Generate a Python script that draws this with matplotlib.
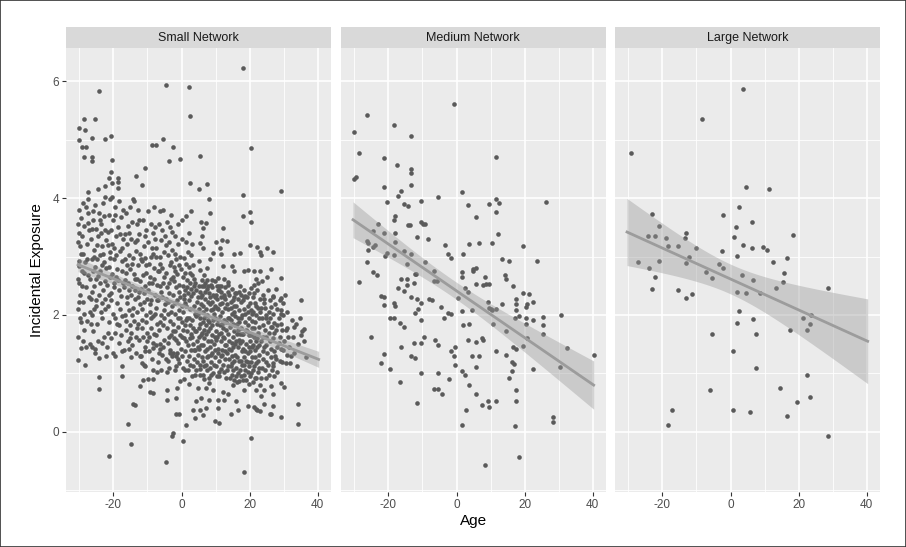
import numpy as np
import matplotlib.pyplot as plt

plt.rcParams['font.family'] = ['Liberation Sans', 'DejaVu Sans']
plt.rcParams['axes.unicode_minus'] = False

panel_titles = ["Small Network", "Medium Network", "Large Network"]
x_ticks = [-20, 0, 20, 40]
x_minor = [-30, -10, 10, 30]
y_ticks = [0, 2, 4, 6]
y_minor = [-1, 1, 3, 5]

# fitted line: value at the youngest and oldest age
fit_start = [2.86, 3.63, 3.42]
fit_end = [1.24, 0.80, 1.55]

# (age, incidental exposure)
small_points = [
    # sparse top
    (18.0, 6.22), (-4.7, 5.94), (2.3, 5.91), (-24.3, 5.84), (2.5, 5.41), (-28.5, 5.35), (-25.4, 5.36),
    (-30.1, 5.20), (-28.4, 5.17), (-30.2, 5.00), (-26.4, 5.03), (-22.4, 5.01), (-20.6, 5.07), (-5.5, 5.01),
    (-8.6, 4.91), (-7.6, 4.91), (-2.4, 4.88), (20.4, 4.86), (-29.3, 4.88), (-28.2, 4.88), (-28.6, 4.70),
    (-26.3, 4.70), (-26.3, 4.63), (-20.4, 4.66), (-3.8, 4.63), (-0.5, 4.67), (5.3, 4.72), (-10.6, 4.51),
    (-20.6, 4.44), (-21.4, 4.35), (-18.6, 4.34), (-18.6, 4.28), (-20.3, 4.26), (-18.6, 4.18), (-13.5, 4.38),
    (-11.6, 4.22), (-22.6, 4.21), (-24.4, 4.15), (-27.4, 4.11), (2.4, 4.26), (7.5, 4.25), (5.2, 4.15),
    (18.0, 4.06), (29.2, 4.13), (-22.4, 4.02), (-20.4, 4.02), (-27.5, 3.98), (-14.3, 3.98), (8.2, 3.98),
    # upper right
    (8.4, 3.74), (18.2, 3.70), (20.2, 3.77), (20.3, 3.59), (5.8, 3.59), (7.1, 3.57), (6.2, 3.49), (12.3, 3.49),
    (6.1, 3.36), (10.0, 3.25), (12.0, 3.28), (13.3, 3.26), (5.3, 3.23), (6.2, 3.14), (11.2, 3.14), (20.2, 3.19),
    (22.1, 3.17), (25.1, 3.14), (27.0, 3.08), (23.1, 3.07), (23.3, 3.02), (17.3, 3.06), (15.3, 3.04), (9.2, 3.06),
    (11.7, 3.05), (5.0, 2.93), (8.5, 2.95), (12.2, 2.84), (14.9, 2.83), (15.3, 2.76), (18.3, 2.76), (19.4, 2.77),
    (21.2, 2.75), (23.1, 2.76), (26.4, 2.79), (5.4, 2.77), (7.4, 2.80), (6.5, 2.69), (10.7, 2.63), (12.6, 2.61),
    (13.6, 2.57), (21.9, 2.61), (29.3, 2.63), (5.0, 2.50), (7.8, 2.50), (11.7, 2.49), (18.3, 2.43), (20.4, 2.46),
    (21.2, 2.51), (10.7, 2.43), (9.7, 2.31), (12.6, 2.31), (15.5, 2.31), (18.5, 2.31), (24.1, 2.28), (27.0, 2.33),
    (29.1, 2.29), (29.9, 2.20), (35.0, 2.26), (23.3, 2.12), (26.2, 2.13), (29.3, 2.08), (29.3, 2.02), (24.8, 2.00),
    (27.2, 1.87), (28.2, 1.83), (31.1, 1.77), (33.0, 1.79), (36.0, 1.76), (35.0, 1.65), (29.6, 1.75), (26.2, 1.80),
    # lower right
    (27.2, 1.38), (29.3, 1.41), (28.9, 1.21), (33.0, 1.35), (34.0, 1.13), (28.2, 1.02), (27.0, 1.18), (29.3, 0.84),
    (30.1, 0.77), (26.2, 0.79), (27.0, 0.65), (27.0, 0.45), (24.3, 0.48), (26.2, 0.31), (29.3, 0.26), (34.2, 0.47),
    (34.2, 0.13), (21.4, 0.43), (22.1, 0.37), (19.4, 0.45), (16.5, 0.38), (14.4, 0.30), (16.1, 0.52), (18.5, 0.72),
    (21.9, 0.72), (18.9, 0.89), (17.0, 0.87), (15.1, 0.81), (13.6, 0.64), (12.6, 0.55), (10.7, 0.55), (8.2, 0.55),
    (5.8, 0.58), (4.4, 0.52), (10.7, 0.41), (5.4, 0.38), (7.3, 0.41), (9.7, 0.18), (10.9, 0.15), (20.4, -0.11),
    (4.9, 0.75), (7.3, 0.75), (9.2, 0.72), (27.2, 0.95), (23.3, 0.61), (23.2, 0.35), (25.9, 0.31), (21.8, 0.39),
    (30.6, 1.18), (31.1, 1.32), (21.8, 0.92), (8.1, 0.84), (4.0, 0.24), (6.4, 0.28), (12.1, 0.69),
    # lower left
    (-29.4, 1.43), (-28.2, 1.46), (-26.2, 1.46), (-25.3, 1.41), (-23.3, 1.52), (-30.4, 1.23), (-28.4, 1.15),
    (-24.3, 1.26), (-22.3, 1.29), (-19.4, 1.30), (-17.5, 1.38), (-15.5, 1.41), (-14.8, 1.28), (-12.2, 1.30),
    (-10.7, 1.38), (-8.3, 1.43), (-6.3, 1.41), (-3.4, 1.35), (-1.5, 1.29), (-11.7, 1.18), (-10.7, 1.13),
    (-8.3, 1.06), (-7.3, 1.03), (-4.4, 1.02), (-1.5, 1.12), (-17.5, 1.12), (-17.5, 0.96), (-24.3, 0.94),
    (-24.3, 0.73), (-11.4, 0.88), (-9.7, 0.90), (-8.4, 0.90), (-12.3, 0.78), (-9.2, 0.69), (-8.4, 0.66),
    (-4.4, 0.72), (-4.4, 0.55), (-1.7, 0.58), (-0.5, 0.87), (-14.3, 0.48), (-13.6, 0.46), (-15.6, 0.14),
    (-1.5, 0.30), (-0.7, 0.31), (1.4, 0.12), (-2.6, -0.02), (-2.9, -0.07), (3.4, 0.38),
    (-21.4, -0.41), (-14.8, -0.21), (-4.7, -0.51), (18.3, -0.68), (0.5, -0.16),
    # dense cloud, age -30 to -27
    (-30.4, 1.62), (-29.6, 1.88), (-30.3, 2.10), (-28.7, 2.02), (-29.9, 2.35), (-28.2, 2.48), (-30.3, 2.62),
    (-29.1, 2.75), (-27.6, 2.68), (-30.2, 2.92), (-28.8, 3.05), (-29.7, 3.18), (-27.9, 3.22), (-30.1, 3.40),
    (-28.5, 3.52), (-29.4, 3.66), (-30.1, 3.80), (-27.4, 3.74), (-28.9, 3.92), (-30.2, 2.22), (-27.3, 2.30),
    (-29.0, 1.55), (-27.8, 1.90), (-30.0, 2.84), (-28.3, 2.90), (-27.1, 3.45), (-29.2, 2.50), (-27.0, 2.05),
    (-28.6, 1.75), (-30.4, 3.55),
    (-29.8, 1.95), (-28.9, 2.22), (-30.0, 2.55), (-28.6, 2.72), (-29.6, 3.05), (-27.9, 2.95), (-29.2, 3.35),
    (-27.5, 3.58), (-28.2, 3.85), (-30.3, 3.25),
    # -27 to -22
    (-26.8, 1.50), (-25.9, 1.72), (-24.8, 1.85), (-26.3, 2.00), (-23.5, 1.95), (-25.1, 2.15), (-22.6, 2.10),
    (-26.6, 2.28), (-24.2, 2.35), (-23.0, 2.42), (-25.6, 2.50), (-26.9, 2.62), (-24.6, 2.66), (-22.4, 2.58),
    (-23.8, 2.75), (-25.3, 2.82), (-26.2, 2.95), (-22.9, 2.90), (-24.0, 3.02), (-25.8, 3.12), (-23.3, 3.18),
    (-26.7, 3.30), (-24.5, 3.35), (-22.2, 3.28), (-25.0, 3.48), (-23.6, 3.55), (-26.0, 3.62), (-24.3, 3.75),
    (-22.7, 3.70), (-25.5, 3.88), (-23.1, 3.92), (-25.2, 2.25), (-23.9, 2.55), (-26.5, 1.85), (-22.8, 1.62),
    (-24.4, 1.55), (-25.7, 3.00), (-23.4, 2.20), (-26.1, 3.78), (-22.3, 2.80), (-24.9, 2.95), (-23.7, 3.40),
    (-25.4, 1.35),
    (-26.4, 2.40), (-25.0, 2.62), (-23.5, 2.85), (-26.0, 2.75), (-24.8, 3.20), (-23.0, 3.05), (-26.3, 3.48),
    (-24.0, 3.62), (-22.6, 3.45), (-25.6, 2.10), (-23.7, 2.05), (-22.5, 2.28),
    # -22 to -17
    (-21.8, 1.45), (-20.6, 1.60), (-19.5, 1.70), (-21.2, 1.88), (-18.3, 1.82), (-17.4, 1.98), (-20.1, 2.02),
    (-21.6, 2.15), (-19.0, 2.20), (-17.9, 2.32), (-20.8, 2.38), (-21.9, 2.52), (-19.7, 2.48), (-18.6, 2.60),
    (-17.2, 2.55), (-20.3, 2.70), (-21.4, 2.82), (-18.9, 2.78), (-17.6, 2.92), (-19.9, 2.95), (-21.0, 3.08),
    (-18.1, 3.10), (-20.5, 3.22), (-17.3, 3.30), (-19.3, 3.35), (-21.7, 3.42), (-18.7, 3.50), (-20.0, 3.62),
    (-17.8, 3.68), (-21.3, 3.72), (-19.6, 3.85), (-18.4, 3.95), (-20.9, 3.98), (-17.1, 3.80), (-19.2, 2.65),
    (-20.7, 2.25), (-18.0, 2.10), (-21.1, 2.65), (-19.8, 3.15), (-17.5, 2.75), (-20.2, 1.35), (-18.5, 1.52),
    (-21.5, 3.20), (-19.4, 1.95),
    (-21.3, 2.35), (-19.9, 2.55), (-18.3, 2.42), (-21.0, 2.98), (-19.2, 3.02), (-17.6, 3.15), (-20.6, 3.45),
    (-18.0, 3.38), (-19.5, 3.72), (-21.6, 1.70), (-19.0, 1.85), (-17.7, 1.65),
    # -17 to -12
    (-16.8, 1.40), (-15.7, 1.55), (-14.6, 1.48), (-13.5, 1.62), (-12.4, 1.58), (-16.2, 1.75), (-15.0, 1.82),
    (-13.9, 1.90), (-12.7, 1.85), (-16.6, 2.00), (-15.4, 2.08), (-14.2, 2.12), (-13.1, 2.05), (-12.2, 2.18),
    (-16.0, 2.30), (-14.8, 2.35), (-13.6, 2.28), (-12.5, 2.40), (-16.9, 2.48), (-15.6, 2.55), (-14.4, 2.50),
    (-13.2, 2.62), (-12.1, 2.58), (-16.4, 2.72), (-15.2, 2.78), (-14.0, 2.70), (-12.9, 2.85), (-16.7, 2.95),
    (-15.5, 3.02), (-14.3, 2.98), (-13.3, 3.10), (-12.3, 3.05), (-16.1, 3.22), (-14.9, 3.30), (-13.8, 3.25),
    (-12.6, 3.38), (-15.8, 3.52), (-14.5, 3.60), (-13.0, 3.55), (-16.3, 3.75), (-15.1, 3.85), (-12.8, 3.80),
    (-14.1, 3.95), (-13.7, 2.42), (-15.9, 2.20), (-12.0, 2.95), (-14.7, 1.70), (-16.5, 2.60), (-13.4, 1.35),
    (-16.3, 1.90), (-14.5, 2.00), (-12.9, 2.30), (-15.3, 2.42), (-13.8, 2.62), (-16.1, 2.85), (-14.6, 2.88),
    (-13.1, 3.28), (-15.4, 3.40), (-12.4, 3.62), (-16.7, 3.38), (-15.0, 1.60), (-13.0, 1.78),
    # -12 to -7
    (-11.8, 1.30), (-10.7, 1.45), (-9.6, 1.38), (-8.5, 1.52), (-7.4, 1.48), (-11.3, 1.62), (-10.2, 1.70),
    (-9.1, 1.78), (-8.0, 1.68), (-7.2, 1.85), (-11.6, 1.92), (-10.5, 2.00), (-9.4, 2.05), (-8.3, 1.98),
    (-7.6, 2.12), (-11.1, 2.22), (-10.0, 2.28), (-8.9, 2.25), (-7.8, 2.35), (-11.9, 2.45), (-10.8, 2.50),
    (-9.7, 2.42), (-8.6, 2.55), (-7.3, 2.52), (-11.4, 2.68), (-10.3, 2.72), (-9.2, 2.65), (-8.1, 2.80),
    (-7.0, 2.75), (-11.7, 2.92), (-10.6, 2.98), (-9.5, 2.88), (-8.4, 3.05), (-7.5, 3.00), (-11.0, 3.18),
    (-9.9, 3.25), (-8.8, 3.15), (-7.7, 3.30), (-10.4, 3.45), (-9.0, 3.55), (-7.9, 3.50), (-11.2, 3.62),
    (-9.8, 3.78), (-8.2, 3.85), (-10.9, 1.15), (-8.7, 1.25), (-7.1, 2.25), (-9.3, 2.18), (-11.5, 2.10),
    (-10.1, 1.55),
    (-11.5, 1.78), (-10.3, 1.88), (-9.0, 1.95), (-7.8, 2.02), (-11.0, 2.38), (-9.5, 2.55), (-8.0, 2.62),
    (-10.5, 2.85), (-9.0, 3.00), (-7.5, 3.15), (-10.8, 3.35), (-8.5, 3.40), (-9.5, 1.62), (-7.6, 1.65),
    # -7 to -2
    (-6.8, 1.20), (-5.7, 1.32), (-4.6, 1.25), (-3.5, 1.40), (-2.4, 1.35), (-6.3, 1.50), (-5.2, 1.58),
    (-4.1, 1.52), (-3.0, 1.65), (-2.2, 1.60), (-6.6, 1.75), (-5.5, 1.82), (-4.4, 1.78), (-3.3, 1.90),
    (-2.6, 1.85), (-6.1, 2.00), (-5.0, 2.08), (-3.9, 2.02), (-2.8, 2.15), (-6.9, 2.25), (-5.8, 2.30),
    (-4.7, 2.28), (-3.6, 2.38), (-2.5, 2.35), (-6.4, 2.50), (-5.3, 2.55), (-4.2, 2.48), (-3.1, 2.62),
    (-2.1, 2.58), (-6.7, 2.75), (-5.6, 2.80), (-4.5, 2.72), (-3.4, 2.85), (-2.3, 2.82), (-6.2, 3.00),
    (-5.1, 3.08), (-4.0, 3.02), (-2.9, 3.12), (-5.9, 3.28), (-4.8, 3.35), (-3.7, 3.25), (-2.7, 3.42),
    (-6.5, 3.55), (-4.3, 3.60), (-3.2, 3.72), (-5.4, 3.80), (-2.0, 3.05), (-6.0, 1.05), (-3.8, 1.10),
    (-4.9, 2.18),
    (-6.6, 1.35), (-5.4, 1.45), (-6.2, 1.88), (-5.0, 1.95), (-4.0, 2.22), (-6.0, 2.40), (-5.0, 2.65),
    (-6.4, 2.88), (-4.6, 3.20), (-5.7, 3.45), (-3.3, 3.50), (-6.3, 3.78),
    (-3.9, 1.22), (-2.9, 1.30), (-1.0, 1.25), (0.1, 1.30), (-3.6, 1.62), (-2.5, 1.72), (-0.9, 1.52),
    (0.2, 1.62), (-3.2, 2.05), (-2.0, 2.20), (-1.0, 1.95), (0.5, 1.75), (-3.8, 2.55), (-2.6, 2.65),
    (-0.8, 2.40), (0.3, 2.65), (-3.1, 2.90), (-1.9, 2.75), (-0.6, 2.85), (0.0, 2.15),
    # -2 to 5
    (-1.8, 1.05), (-0.7, 1.18), (0.4, 1.10), (1.5, 1.22), (2.6, 1.15), (-1.3, 1.35), (-0.2, 1.42), (0.9, 1.38),
    (2.0, 1.48), (2.9, 1.40), (-1.6, 1.58), (-0.5, 1.65), (0.6, 1.60), (1.7, 1.72), (2.7, 1.68), (-1.1, 1.80),
    (0.0, 1.88), (1.1, 1.82), (2.2, 1.95), (-1.9, 2.02), (-0.8, 2.08), (0.3, 2.05), (1.4, 2.15), (2.5, 2.10),
    (-1.4, 2.25), (-0.3, 2.30), (0.8, 2.28), (1.9, 2.38), (2.8, 2.32), (-1.7, 2.48), (-0.6, 2.52), (0.5, 2.50),
    (1.6, 2.60), (2.4, 2.55), (-1.2, 2.70), (-0.1, 2.78), (1.0, 2.72), (2.1, 2.82), (-1.5, 2.95), (-0.4, 3.00),
    (0.7, 2.98), (1.8, 3.08), (2.7, 3.02), (-1.0, 3.22), (0.2, 3.30), (1.3, 3.25), (2.3, 3.40), (-0.9, 3.55),
    (0.1, 3.62), (1.2, 3.70), (-1.8, 3.35), (2.9, 3.78), (0.6, 0.90), (-1.2, 0.75), (2.1, 0.82), (1.5, 1.95),
    (-0.5, 1.95), (0.9, 2.42), (2.4, 2.72), (-1.9, 1.72),
    (1.0, 1.05), (2.2, 1.30), (3.5, 1.12), (4.6, 1.20), (1.3, 1.55), (2.4, 1.60), (3.7, 1.40), (4.9, 1.45),
    (1.2, 1.92), (2.6, 1.82), (3.4, 1.78), (4.4, 1.72), (1.0, 2.20), (2.2, 2.25), (3.9, 2.02), (4.9, 2.30),
    (1.5, 2.48), (2.9, 2.45), (4.1, 2.55), (0.6, 2.35), (2.0, 1.05), (4.0, 0.98), (3.0, 2.68), (1.2, 2.88),
    # 3 to 10
    (3.2, 0.95), (4.3, 1.05), (5.4, 0.98), (6.5, 1.12), (7.6, 1.05), (3.7, 1.25), (4.8, 1.32), (5.9, 1.28),
    (7.0, 1.38), (7.9, 1.30), (3.4, 1.50), (4.5, 1.55), (5.6, 1.48), (6.7, 1.60), (7.7, 1.55), (3.9, 1.72),
    (5.0, 1.78), (6.1, 1.70), (7.2, 1.82), (3.1, 1.92), (4.2, 1.98), (5.3, 1.95), (6.4, 2.05), (7.5, 2.00),
    (3.6, 2.15), (4.7, 2.22), (5.8, 2.18), (6.9, 2.28), (7.8, 2.22), (3.3, 2.38), (4.4, 2.42), (5.5, 2.40),
    (6.6, 2.50), (7.4, 2.45), (3.8, 2.62), (6.0, 2.60), (3.5, 2.85), (3.2, 3.22), (4.0, 1.40), (5.1, 1.62),
    (6.2, 1.88), (7.3, 1.68), (3.0, 1.62), (4.8, 2.02), (6.0, 2.35), (7.0, 2.55), (5.5, 1.15), (6.7, 0.90),
    (3.6, 2.50),
    (5.3, 1.08), (6.3, 1.22), (7.3, 1.15), (8.5, 1.10), (9.6, 1.15), (5.2, 1.42), (6.2, 1.48), (7.4, 1.42),
    (8.6, 1.32), (9.7, 1.40), (5.6, 1.65), (6.5, 1.75), (7.8, 1.72), (8.8, 1.55), (9.9, 1.62), (5.4, 1.85),
    (6.7, 1.95), (7.9, 1.92), (9.0, 1.82), (9.9, 1.95), (5.2, 2.10), (6.3, 2.15), (7.2, 2.10), (8.4, 2.18),
    (9.4, 2.10), (5.6, 2.30), (6.8, 2.40), (8.0, 2.38), (9.1, 2.48), (10.0, 2.35), (5.9, 2.50), (7.6, 2.60),
    (8.9, 2.60), (6.2, 0.98), (8.8, 0.98), (7.5, 1.28),
    # 8 to 15
    (8.2, 0.92), (9.3, 1.00), (10.4, 0.95), (11.5, 1.08), (12.6, 1.02), (8.7, 1.20), (9.8, 1.28), (10.9, 1.22),
    (12.0, 1.32), (12.9, 1.25), (8.4, 1.45), (9.5, 1.50), (10.6, 1.42), (11.7, 1.55), (12.7, 1.48), (8.9, 1.65),
    (10.0, 1.72), (11.1, 1.68), (12.2, 1.78), (8.1, 1.88), (9.2, 1.92), (10.3, 1.85), (11.4, 1.98), (12.5, 1.92),
    (8.6, 2.08), (9.7, 2.15), (10.8, 2.10), (11.9, 2.20), (12.8, 2.12), (8.3, 2.30), (9.4, 2.35), (10.5, 2.28),
    (11.6, 2.40), (12.4, 2.35), (8.8, 2.52), (9.9, 2.58), (11.0, 2.50), (9.0, 1.35), (10.1, 1.58), (11.2, 1.82),
    (12.3, 1.62), (8.5, 1.78), (9.6, 2.02), (10.9, 2.42), (11.5, 1.30), (8.9, 2.22), (11.8, 2.05),
    (10.2, 1.12), (11.1, 1.02), (12.2, 1.15), (13.3, 1.05), (14.4, 1.12), (10.6, 1.35), (11.8, 1.40),
    (12.9, 1.38), (13.9, 1.42), (14.8, 1.30), (10.4, 1.62), (11.5, 1.70), (12.6, 1.60), (13.7, 1.68),
    (14.8, 1.52), (10.8, 1.92), (11.9, 1.85), (13.0, 1.88), (14.1, 1.95), (15.0, 1.85), (10.3, 2.12),
    (11.4, 2.18), (12.7, 2.28), (13.6, 2.10), (14.6, 2.12), (10.5, 2.50), (11.7, 2.30), (12.8, 2.48),
    (14.0, 2.35), (15.0, 2.25), (11.0, 0.95), (13.0, 0.92), (14.9, 0.98),
    # 13 to 20
    (14.3, 0.92), (15.4, 0.88), (16.5, 1.00), (17.6, 0.95), (13.7, 1.12), (14.8, 1.18), (15.9, 1.10),
    (17.0, 1.22), (17.9, 1.15), (13.4, 1.35), (14.5, 1.40), (15.6, 1.32), (16.7, 1.45), (17.7, 1.38),
    (13.9, 1.55), (15.0, 1.62), (16.1, 1.55), (17.2, 1.68), (13.1, 1.75), (14.2, 1.80), (15.3, 1.72),
    (16.4, 1.85), (17.5, 1.78), (13.6, 1.95), (14.7, 2.02), (15.8, 1.98), (16.9, 2.08), (17.8, 2.00),
    (13.3, 2.18), (14.4, 2.22), (15.5, 2.15), (16.6, 2.28), (17.4, 2.22), (13.8, 2.40), (14.9, 2.45),
    (16.0, 2.38), (17.1, 2.50), (13.0, 1.48), (14.0, 1.25), (15.1, 1.45), (16.2, 1.68), (17.3, 1.52),
    (14.5, 1.92), (16.0, 2.15), (17.0, 1.88), (13.7, 2.52), (17.6, 2.35),
    (15.2, 1.05), (16.1, 0.95), (17.2, 1.05), (18.3, 0.98), (19.4, 1.02), (15.5, 1.22), (16.4, 1.28),
    (17.4, 1.22), (18.5, 1.15), (19.6, 1.20), (15.7, 1.50), (16.8, 1.58), (17.9, 1.55), (18.7, 1.38),
    (19.8, 1.45), (15.6, 1.82), (16.7, 1.75), (17.8, 1.68), (18.9, 1.75), (19.9, 1.65), (15.4, 2.05),
    (16.5, 1.95), (17.6, 1.95), (18.7, 2.02), (19.6, 2.05), (15.8, 2.38), (16.8, 2.40), (18.0, 2.25),
    (19.2, 2.30), (20.0, 2.20), (16.3, 0.85), (18.0, 0.88), (19.7, 0.82),
    # 18 to 25
    (21.5, 0.92), (18.7, 1.05), (19.8, 1.12), (20.9, 1.05), (22.0, 1.18), (22.9, 1.10), (18.4, 1.28),
    (19.5, 1.35), (20.6, 1.28), (21.7, 1.40), (22.7, 1.32), (18.9, 1.50), (20.0, 1.55), (21.1, 1.48),
    (22.2, 1.60), (18.1, 1.68), (19.2, 1.72), (20.3, 1.65), (21.4, 1.78), (22.5, 1.70), (18.6, 1.88),
    (19.7, 1.95), (20.8, 1.90), (21.9, 2.00), (18.3, 2.10), (19.4, 2.15), (20.5, 2.08), (21.6, 2.20),
    (22.4, 2.12), (18.8, 2.32), (19.9, 2.38), (21.0, 2.30), (22.1, 2.42), (18.0, 1.42), (19.0, 1.22),
    (20.1, 1.38), (21.2, 1.62), (22.3, 1.45), (19.5, 1.82), (21.0, 2.05), (20.0, 0.95), (22.8, 1.95),
    (20.3, 1.00), (21.2, 1.12), (22.4, 1.02), (23.6, 1.10), (24.7, 1.20), (20.5, 1.20), (21.6, 1.28),
    (22.6, 1.22), (23.8, 1.38), (24.9, 1.48), (20.7, 1.45), (21.8, 1.55), (22.8, 1.48), (23.9, 1.62),
    (24.6, 1.75), (20.6, 1.78), (21.7, 1.88), (22.7, 1.80), (23.7, 1.95), (24.9, 1.95), (20.8, 2.02),
    (22.0, 2.15), (23.0, 2.28), (24.3, 2.20), (21.4, 2.38), (22.6, 2.55), (20.9, 0.85), (23.0, 0.80),
    (24.8, 0.92),
    # 23 to 37
    (23.4, 0.92), (24.6, 1.05), (25.8, 0.98), (27.0, 1.12), (23.8, 1.25), (25.1, 1.35), (26.3, 1.28),
    (28.0, 1.45), (23.5, 1.55), (24.8, 1.62), (26.0, 1.55), (27.3, 1.70), (29.0, 1.62), (23.9, 1.82),
    (25.3, 1.88), (26.6, 1.80), (28.5, 1.95), (23.2, 2.05), (24.5, 2.12), (25.7, 2.05), (27.5, 2.18),
    (24.0, 2.35), (25.5, 2.42), (26.8, 2.30), (23.6, 2.58), (25.0, 2.65), (24.2, 1.45), (26.5, 1.05),
    (27.8, 1.25), (24.3, 0.72), (29.5, 1.20), (30.2, 1.55), (28.8, 2.25), (30.8, 1.75), (29.8, 2.00),
    (25.4, 1.15), (26.4, 1.42), (27.5, 1.30), (28.6, 1.52), (25.6, 1.70), (26.8, 1.60), (27.9, 1.75),
    (29.2, 1.85), (25.9, 1.95), (27.0, 2.02), (28.2, 2.10), (26.1, 2.25), (27.9, 2.45), (29.9, 1.40),
    (31.4, 1.62), (32.5, 1.92), (31.8, 1.18), (30.5, 2.35),
    (31.5, 1.45), (32.8, 1.62), (34.2, 1.50), (35.5, 1.72), (33.5, 1.85), (36.0, 1.55), (31.0, 2.05),
    (32.2, 1.30), (36.5, 1.28), (34.8, 1.95),
]

medium_points = [
    (-0.6, 5.61), (-26.4, 5.42), (-30.2, 5.14), (-18.5, 5.26), (-13.3, 5.07), (-28.5, 4.78), (-21.2, 4.68),
    (11.6, 4.71), (-17.4, 4.56), (-13.3, 4.50), (-13.3, 4.43), (-30.2, 4.33), (-29.4, 4.36), (-13.4, 4.23),
    (-21.2, 4.19), (-16.4, 4.13), (1.6, 4.10), (-17.3, 4.04), (-5.4, 4.02), (11.7, 3.99), (12.4, 3.92),
    (9.6, 3.90), (-20.5, 3.93), (-15.5, 3.90), (-10.4, 3.95), (-14.2, 3.86), (3.5, 3.88), (26.3, 3.93),
    (11.5, 3.76), (5.6, 3.67), (-18.1, 3.70), (-18.5, 3.62), (-10.3, 3.60), (-9.3, 3.55), (-9.9, 3.56),
    (-23.2, 3.56), (-14.2, 3.54), (-13.6, 3.54), (-24.4, 3.43), (-21.2, 3.40), (-18.2, 3.40), (12.3, 3.39),
    (-11.6, 3.34), (-8.5, 3.30), (-26.3, 3.27), (-26.1, 3.23), (-23.9, 3.20), (-24.5, 3.17), (-18.2, 3.25),
    (-3.5, 3.20), (3.7, 3.22), (6.6, 3.23), (10.5, 3.23), (19.4, 3.18), (-26.1, 3.12), (-15.3, 3.10),
    (-20.3, 3.06), (-20.9, 3.01), (-18.3, 3.03), (-13.3, 3.05), (-2.6, 3.05), (1.8, 3.05), (-1.5, 2.97),
    (-26.2, 2.91), (-14.6, 2.88), (-9.3, 2.91), (13.5, 2.95), (15.3, 2.93), (23.6, 2.92), (5.6, 2.80),
    (4.9, 2.78), (-24.4, 2.74), (-23.3, 2.69), (-28.5, 2.56), (-6.5, 2.75), (-6.5, 2.58), (-5.8, 2.58),
    (-11.8, 2.71), (-12.3, 2.70), (1.6, 2.74), (1.6, 2.65), (4.8, 2.75), (8.5, 2.65), (14.2, 2.68),
    (14.5, 2.62), (-16.3, 2.61), (-14.5, 2.61), (-14.5, 2.52), (-12.6, 2.54), (-17.3, 2.46), (-15.3, 2.41),
    (5.7, 2.53), (7.8, 2.52), (8.8, 2.53), (9.6, 2.53), (16.7, 2.50), (2.4, 2.46), (3.4, 2.40), (-22.2, 2.32),
    (-21.2, 2.31), (-13.5, 2.31), (-11.6, 2.27), (-10.4, 2.21), (-8.1, 2.27), (-7.3, 2.25), (0.5, 2.29),
    (19.4, 2.37), (21.3, 2.36), (22.5, 2.23), (17.5, 2.27), (17.5, 2.19), (20.8, 2.18), (20.3, 2.14),
    (9.4, 2.23), (9.6, 2.12), (13.5, 2.19), (-21.4, 2.17), (-18.4, 2.20), (-18.2, 2.16), (-11.4, 2.10),
    (-4.6, 2.13), (-12.3, 2.03), (-2.4, 2.04), (-1.6, 2.01), (1.5, 2.07), (4.6, 2.08), (10.0, 2.11),
    (10.4, 2.08), (11.5, 2.10), (17.5, 2.09), (-19.5, 1.95), (-18.5, 1.94), (-3.6, 1.94), (-10.3, 1.91),
    (-16.5, 1.87), (-15.3, 1.80), (1.8, 1.83), (3.6, 1.85), (10.6, 1.85), (17.3, 1.94), (18.5, 1.99),
    (20.4, 1.95), (20.4, 1.85), (22.4, 1.92), (25.5, 1.96), (25.5, 1.83), (30.6, 2.00), (14.5, 1.73),
    (25.5, 1.68), (-25.2, 1.63), (-9.6, 1.63), (-6.4, 1.57), (-5.3, 1.49), (-12.6, 1.52), (-10.4, 1.52),
    (3.4, 1.58), (5.8, 1.53), (7.6, 1.61), (7.7, 1.57), (20.7, 1.60), (-16.2, 1.46), (-1.5, 1.39),
    (-0.3, 1.46), (11.6, 1.39), (16.7, 1.46), (17.4, 1.41), (19.4, 1.47), (32.4, 1.44), (40.3, 1.31),
    (-21.2, 1.33), (-13.3, 1.30), (-12.3, 1.26), (-0.6, 1.29), (4.5, 1.30), (6.6, 1.29), (14.4, 1.31),
    (-22.1, 1.18), (-19.4, 1.08), (-0.5, 1.15), (5.6, 1.11), (16.4, 1.20), (16.8, 1.16), (22.5, 1.08),
    (30.4, 1.11), (-10.4, 1.00), (-5.5, 1.01), (1.5, 1.04), (2.4, 0.98), (-2.2, 0.91), (16.4, 1.04),
    (15.5, 0.92), (-16.5, 0.86), (3.8, 0.81), (-6.5, 0.73), (-5.5, 0.73), (-4.4, 0.64), (17.4, 0.72),
    (5.6, 0.64), (-11.6, 0.49), (7.5, 0.46), (9.4, 0.53), (11.5, 0.53), (9.6, 0.42), (17.4, 0.52),
    (2.7, 0.37), (28.4, 0.25), (28.3, 0.16), (1.5, 0.11), (17.3, 0.10), (18.3, -0.43), (8.3, -0.56),
]

large_points = [
    (-29.3, 4.78), (-8.5, 5.35), (3.7, 5.86), (4.6, 4.19), (11.4, 4.16), (-23.2, 3.73), (2.6, 3.84),
    (-2.2, 3.72), (6.4, 3.60), (-21.1, 3.53), (1.6, 3.50), (-13.1, 3.41), (-24.2, 3.35), (-22.1, 3.35),
    (-13.4, 3.32), (-19.0, 3.31), (0.9, 3.33), (18.4, 3.37), (-18.4, 3.18), (-15.5, 3.18), (-10.2, 3.15),
    (3.7, 3.19), (6.4, 3.14), (9.6, 3.17), (10.6, 3.12), (-2.6, 3.09), (1.8, 3.01), (-12.3, 3.00),
    (16.6, 2.98), (-27.2, 2.90), (-21.1, 2.93), (-13.1, 2.89), (12.5, 2.90), (-24.0, 2.80), (-3.3, 2.87),
    (-2.2, 2.80), (-7.1, 2.74), (15.6, 2.72), (-22.1, 2.65), (-5.4, 2.63), (3.5, 2.69), (6.7, 2.60),
    (15.3, 2.56), (13.5, 2.47), (-23.2, 2.45), (-15.4, 2.43), (1.8, 2.39), (4.6, 2.37), (8.6, 2.37),
    (-11.2, 2.36), (-13.2, 2.29), (28.5, 2.47), (2.6, 2.06), (21.4, 1.95), (23.7, 2.00), (6.7, 1.93),
    (1.8, 1.86), (23.5, 1.85), (22.4, 1.75), (17.6, 1.75), (7.6, 1.67), (-5.4, 1.68), (0.7, 1.39),
    (7.5, 1.09), (22.5, 0.97), (-6.1, 0.71), (14.6, 0.75), (23.4, 0.60), (19.4, 0.51), (-17.3, 0.38),
    (0.6, 0.38), (5.6, 0.34), (16.6, 0.27), (-18.4, 0.11), (28.5, -0.07),
]

panels = [np.array(small_points), np.array(medium_points), np.array(large_points)]

all_x = np.concatenate([p[:, 0] for p in panels])
all_y = np.concatenate([p[:, 1] for p in panels])
x_lo, x_hi = all_x.min(), all_x.max()
y_lo, y_hi = all_y.min(), all_y.max()
x_pad = (x_hi - x_lo) * 0.05
y_pad = (y_hi - y_lo) * 0.05

fig = plt.figure(figsize=(9.06, 5.47), dpi=100)

lefts = [66 / 906, 341 / 906, 615 / 906]
width = 264.7 / 906
bottom = (547 - 491.7) / 547
height = (491.7 - 48.3) / 547
strip_h = 21.5 / 547

for i, (pts, title) in enumerate(zip(panels, panel_titles)):
    ax = fig.add_axes([lefts[i], bottom, width, height])
    ax.set_facecolor('#EBEBEB')
    for s in ax.spines.values():
        s.set_visible(False)
    ax.set_xlim(x_lo - x_pad, x_hi + x_pad)
    ax.set_ylim(y_lo - y_pad, y_hi + y_pad)
    ax.set_xticks(x_ticks)
    ax.set_xticks(x_minor, minor=True)
    ax.set_yticks(y_ticks)
    ax.set_yticks(y_minor, minor=True)
    ax.grid(which='major', color='white', lw=1.2)
    ax.grid(which='minor', color='white', lw=0.6)
    ax.set_axisbelow(True)
    ax.tick_params(which='minor', length=0)
    ax.tick_params(which='major', length=3, width=0.8, color='#333333',
                   labelsize=8.5, labelcolor='#4D4D4D', pad=2)
    if i > 0:
        ax.tick_params(axis='y', which='both', left=False, labelleft=False)

    x, y = pts[:, 0], pts[:, 1]
    ax.scatter(x, y, s=11, color='#5A5A5A', linewidths=0, zorder=2)

    # trend line from the read values, 95% band width from the points
    xs = np.linspace(x_lo, x_hi, 80)
    yhat = np.interp(xs, [x_lo, x_hi], [fit_start[i], fit_end[i]])
    n = len(x)
    b, a = np.polyfit(x, y, 1)
    resid = y - (a + b * x)
    sd = np.sqrt(np.sum(resid ** 2) / (n - 2))
    se = sd * np.sqrt(1 / n + (xs - x.mean()) ** 2 / np.sum((x - x.mean()) ** 2))
    ax.fill_between(xs, yhat - 1.97 * se, yhat + 1.97 * se, color='#999999', alpha=0.4, lw=0, zorder=3)
    ax.plot(xs, yhat, color='#9C9C9C', lw=2.0, zorder=4)

    sax = fig.add_axes([lefts[i], bottom + height, width, strip_h])
    sax.set_facecolor('#D9D9D9')
    sax.set_xticks([])
    sax.set_yticks([])
    for s in sax.spines.values():
        s.set_visible(False)
    sax.text(0.5, 0.5, title, ha='center', va='center', fontsize=9, color='#1A1A1A',
             transform=sax.transAxes)

fig.text(0.041, bottom + height / 2, 'Incidental Exposure', rotation=90, ha='center', va='center',
         fontsize=11, color='black')
fig.text(473.9 / 906, 1 - 521 / 547, 'Age', ha='center', va='center', fontsize=11, color='black')

fig.patches.append(plt.Rectangle((0, 0), 1, 1, transform=fig.transFigure, fill=False,
                                 ec='#333333', lw=1.2))

fig.savefig('out.png', dpi=100)
